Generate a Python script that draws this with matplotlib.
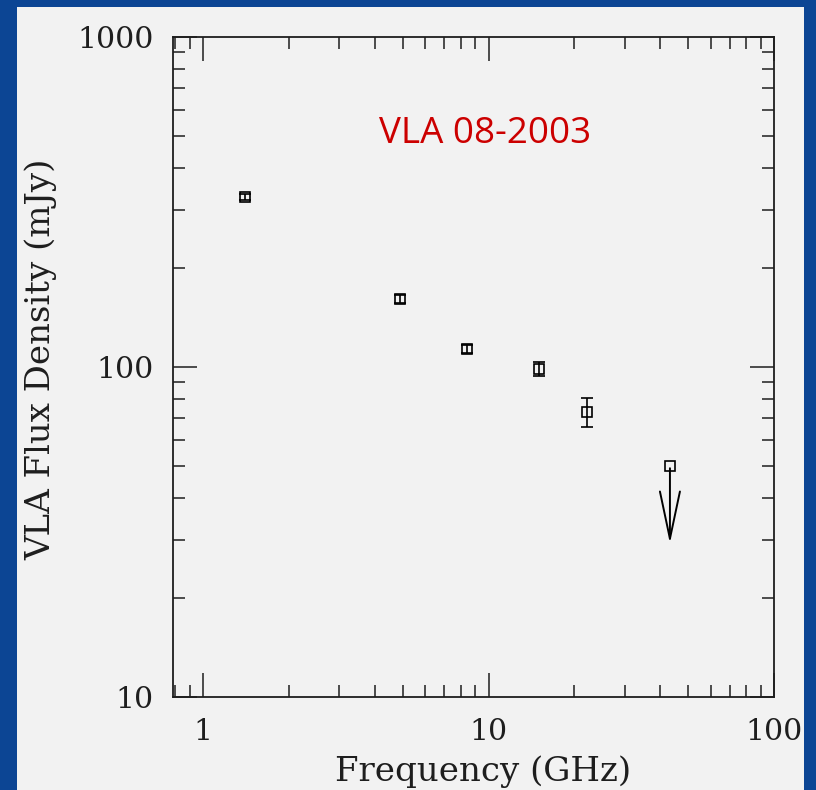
import matplotlib
matplotlib.use("Agg")
import matplotlib.pyplot as plt
from matplotlib.patches import Rectangle
from matplotlib.ticker import LogLocator, NullFormatter, FixedFormatter, FixedLocator

# VLA spectrum, 08-2003
freq = [1.4, 4.9, 8.4, 15.0, 22.1]
flux = [327.0, 161.0, 113.5, 98.6, 73.1]
flux_err = [7.0, 4.5, 3.0, 5.0, 7.5]

lim_freq = [43.2]
lim_flux = [50.1]
lim_arrow_to = [29.2]

xticks = [1, 10, 100]
yticks = [10, 100, 1000]

bg_blue = "#0c4594"
panel = "#f2f2f2"
ink = "#1e1e1e"

fig = plt.figure(figsize=(8.16, 7.90), dpi=100, facecolor=bg_blue)
fig.add_artist(Rectangle((17 / 816, 0), (804 - 17) / 816, (790 - 7) / 790,
                         transform=fig.transFigure, facecolor=panel,
                         edgecolor="none", zorder=-10))

ax = fig.add_axes([173 / 816, 93 / 790, 601 / 816, 660 / 790])
ax.set_facecolor(panel)
ax.set_xscale("log")
ax.set_yscale("log")
ax.set_xlim(0.785, 100)
ax.set_ylim(10, 1000)

ax.errorbar(freq, flux, yerr=flux_err, fmt="s", mfc="none", mec="black",
            ecolor="black", ms=6.5, mew=1.2, elinewidth=1.2, capsize=4.5,
            capthick=1.2)
ax.plot(lim_freq, lim_flux, "s", mfc="none", mec="black", ms=6.5, mew=1.2)
for xf, yf, yt in zip(lim_freq, lim_flux, lim_arrow_to):
    ax.annotate("", xy=(xf, yt), xytext=(xf, yf * 0.985),
                arrowprops=dict(arrowstyle="->,head_length=1.7,head_width=0.36",
                                color="black", lw=1.4, mutation_scale=20,
                                shrinkA=0, shrinkB=0))

serif = "DejaVu Serif"
ax.xaxis.set_major_locator(FixedLocator(xticks))
ax.xaxis.set_major_formatter(FixedFormatter([str(v) for v in xticks]))
ax.yaxis.set_major_locator(FixedLocator(yticks))
ax.yaxis.set_major_formatter(FixedFormatter([str(v) for v in yticks]))
ax.xaxis.set_minor_locator(LogLocator(base=10, subs=range(2, 10), numticks=20))
ax.yaxis.set_minor_locator(LogLocator(base=10, subs=range(2, 10), numticks=20))
ax.xaxis.set_minor_formatter(NullFormatter())
ax.yaxis.set_minor_formatter(NullFormatter())

ax.tick_params(which="both", direction="in", top=True, right=True,
               color=ink, width=1.1)
ax.tick_params(which="major", length=17)
ax.tick_params(which="minor", length=8.5)
ax.tick_params(axis="x", which="major", pad=15)
ax.tick_params(axis="y", which="major", pad=14)
for lab in ax.get_xticklabels() + ax.get_yticklabels():
    lab.set_fontfamily(serif)
    lab.set_fontsize(21.5)
    lab.set_color(ink)
for sp in ax.spines.values():
    sp.set_linewidth(1.3)
    sp.set_color(ink)

ax.set_xlabel("Frequency (GHz)", fontfamily=serif, fontsize=24.5, color=ink)
ax.set_ylabel("VLA Flux Density (mJy)", fontfamily=serif, fontsize=24.5,
              color=ink)
ax.xaxis.set_label_coords((483 - 173) / 601, (697 - 755) / 660)
ax.yaxis.set_label_coords((57 - 173) / 601, (697 - 359) / 660)

ax.text((485 - 173) / 601, (697 - 143) / 660, "VLA 08-2003",
        transform=ax.transAxes, color="#cc0000", fontfamily="Open Sans",
        fontsize=26.5, ha="center", va="baseline")

fig.savefig("out.png", dpi=100, facecolor=fig.get_facecolor())
